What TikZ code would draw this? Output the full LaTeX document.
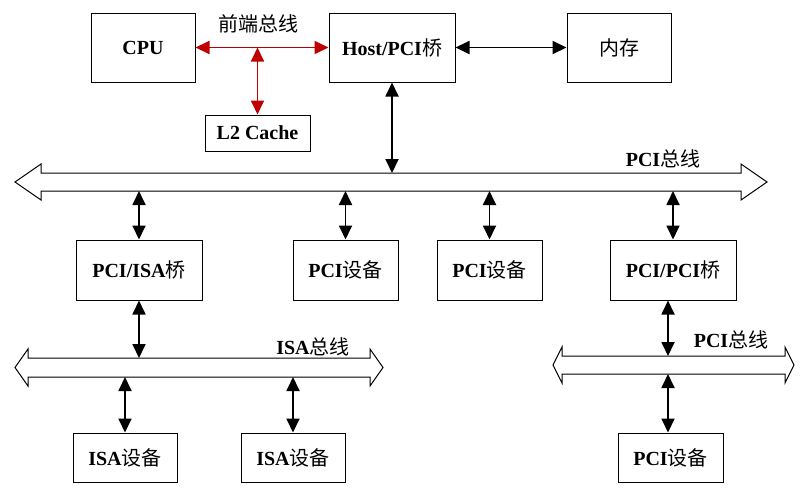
\documentclass[tikz,border=0pt]{standalone}
\usepackage{fontspec}
\setmainfont{Liberation Serif}
\newfontfamily\zh{Noto Sans CJK SC}
\usetikzlibrary{arrows.meta}

% hollow two-headed bus: left x, right x, shaft top y, shaft bottom y, head length
\newcommand{\hbus}[5]{%
  \draw[busline] (#1,{(#3+#4)/2}) -- ({#1+#5},{#3-9}) -- ({#1+#5},#3)
    -- ({#2-#5},#3) -- ({#2-#5},{#3-9}) -- (#2,{(#3+#4)/2})
    -- ({#2-#5},{#4+9}) -- ({#2-#5},#4) -- ({#1+#5},#4)
    -- ({#1+#5},{#4+9}) -- cycle;}

\begin{document}
\begin{tikzpicture}[x=1pt, y=-1pt, >={Triangle[length=14pt,width=13pt]},
    box/.style={draw, line width=1pt, inner sep=0pt,
      font=\bfseries\fontsize{20}{20}\selectfont},
    link/.style={<->, line width=1.8pt},
    fsb/.style={<->, line width=1.8pt, draw=red!75!black, fill=red!75!black},
    busline/.style={line width=1pt, fill=white},
    tag/.style={font=\bfseries\fontsize{20}{20}\selectfont}]
    %% Background
    \useasboundingbox (0,0) rectangle (805,496);

    %% Boxes
    \node[box, minimum width=104, minimum height=69] (cpu) at (143,47.5) {CPU};
    \node[box, minimum width=126, minimum height=69] (host) at (392,47.5) {Host/PCI{\mdseries\zh 桥}};
    \node[box, minimum width=104, minimum height=69] (mem) at (619,47.5) {\mdseries\zh 内存};
    \node[box, minimum width=105, minimum height=36] (l2) at (257.5,133) {L2 Cache};

    \node[box, minimum width=126, minimum height=60] (pciisa) at (139,270) {PCI/ISA{\mdseries\zh 桥}};
    \node[box, minimum width=105, minimum height=60] (dev1) at (345.5,270) {PCI{\mdseries\zh 设备}};
    \node[box, minimum width=105, minimum height=60] (dev2) at (489.5,270) {PCI{\mdseries\zh 设备}};
    \node[box, minimum width=126, minimum height=60] (pcipci) at (673,270) {PCI/PCI{\mdseries\zh 桥}};

    \node[box, minimum width=104, minimum height=49] (isa1) at (125,457.5) {ISA{\mdseries\zh 设备}};
    \node[box, minimum width=104, minimum height=49] (isa2) at (293,457.5) {ISA{\mdseries\zh 设备}};
    \node[box, minimum width=105, minimum height=49] (dev3) at (670.5,457.5) {PCI{\mdseries\zh 设备}};

    %% Buses
    \hbus{15}{767}{173}{191}{26}
    \hbus{15}{383}{358}{377}{13}
    \hbus{553}{794}{356}{374}{9}
    \coordinate (pcitop) at (0,173);
    \coordinate (pcibot) at (0,191);
    \coordinate (isatop) at (0,358);
    \coordinate (isabot) at (0,377);
    \coordinate (subtop) at (668,356);
    \coordinate (subbot) at (668,374);

    %% Front side bus
    \draw[fsb] (cpu.east) -- (host.west);
    \draw[fsb] (cpu.east -| l2.north) -- (l2.north);

    %% Links
    \draw[link] (host.east) -- (mem.west);
    \draw[link] (host.south) -- (host.south |- pcitop);
    \draw[link] (pcibot -| pciisa.north) -- (pciisa.north);
    \draw[link] (pcibot -| dev1.north) -- (dev1.north);
    \draw[link] (pcibot -| dev2.north) -- (dev2.north);
    \draw[link] (pcibot -| pcipci.north) -- (pcipci.north);
    \draw[link] (pciisa.south) -- (pciisa.south |- isatop);
    \draw[link] (isabot -| isa1.north) -- (isa1.north);
    \draw[link] (isabot -| isa2.north) -- (isa2.north);
    \draw[link] (pcipci.south -| subtop) -- (subtop);
    \draw[link] (subbot) -- (subbot |- dev3.north);

    %% Notes
    \node[tag] (fsbtag) at (258,24) {\mdseries\zh 前端总线};
    \node[tag] (pcitag) at (663,159) {PCI{\mdseries\zh 总线}};
    \node[tag] (isatag) at (313,347) {ISA{\mdseries\zh 总线}};
    \node[tag] (subtag) at (731,340) {PCI{\mdseries\zh 总线}};
\end{tikzpicture}
\end{document}
